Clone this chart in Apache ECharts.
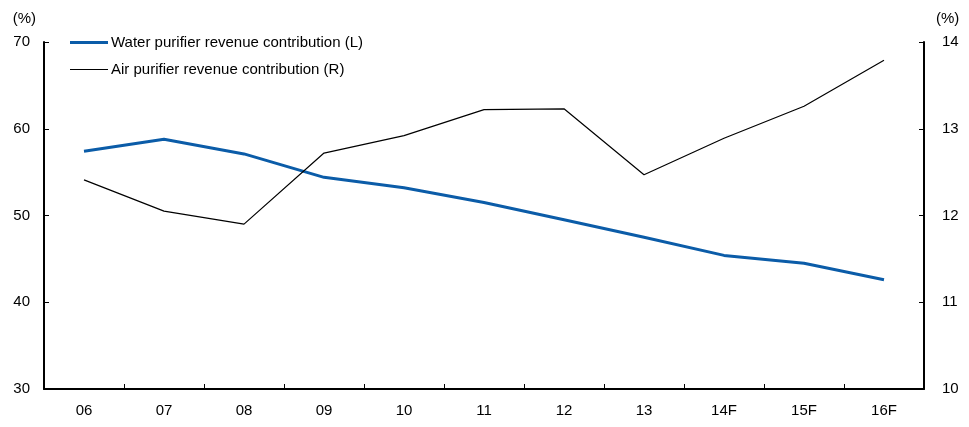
<!DOCTYPE html>
<html>
<head>
<meta charset="utf-8">
<script src="https://cdn.jsdelivr.net/npm/echarts@6/dist/echarts.min.js"></script>
<style>
  html, body { margin: 0; padding: 0; background: #fff; }
  #chart { width: 969px; height: 427px; }
</style>
</head>
<body>
<div id="chart"></div>
<script>
// Years (F = forecast)
const categories = ['06', '07', '08', '09', '10', '11', '12', '13', '14F', '15F', '16F'];
// Water purifier share of revenue, % (left axis)
const waterPurifier = [57.4, 58.8, 57.1, 54.4, 53.2, 51.5, 49.5, 47.5, 45.4, 44.5, 42.6];
// Air purifier share of revenue, % (right axis)
const airPurifier = [12.41, 12.05, 11.90, 12.72, 12.92, 13.22, 13.23, 12.47, 12.89, 13.26, 13.79];
const seriesNames = ['Water purifier revenue contribution (L)', 'Air purifier revenue contribution (R)'];

const FONT = 'Liberation Sans, Arial, sans-serif';
const axisText = { color: '#000', fontFamily: FONT, fontSize: 15 };

const chart = echarts.init(document.getElementById('chart'), null, { renderer: 'canvas' });
chart.setOption({
  animation: false,
  backgroundColor: '#fff',
  grid: { left: 44, right: 45, top: 42, bottom: 38, containLabel: false },
  legend: {
    orient: 'vertical',
    left: 65,
    top: 30,
    itemWidth: 38,
    itemHeight: 3,
    itemGap: 12,
    icon: 'rect',
    textStyle: { color: '#000', fontFamily: FONT, fontSize: 15, padding: [0, 0, 0, -2] },
    data: [
      { name: seriesNames[0], itemStyle: { color: '#0B5CA8' } },
      { name: seriesNames[1], itemStyle: { color: '#000' }, icon: 'path://M0,0H40V1H0Z' }
    ]
  },
  xAxis: {
    type: 'category',
    data: categories,
    boundaryGap: true,
    axisLine: { lineStyle: { color: '#000', width: 2 } },
    axisTick: { show: true, inside: true, length: 5, alignWithLabel: false, lineStyle: { color: '#000', width: 1 } },
    axisLabel: Object.assign({ margin: 14 }, axisText),
    splitLine: { show: false }
  },
  yAxis: [
    {
      type: 'value',
      min: 30, max: 70, interval: 10,
      name: '(%)',
      nameLocation: 'end',
      nameGap: 16,
      nameTextStyle: Object.assign({ align: 'right', padding: [0, 8, 0, 0] }, axisText),
      axisLine: { show: true, lineStyle: { color: '#000', width: 2 } },
      axisTick: { show: true, inside: true, length: 5, lineStyle: { color: '#000', width: 1 } },
      axisLabel: Object.assign({ margin: 14 }, axisText),
      splitLine: { show: false }
    },
    {
      type: 'value',
      min: 10, max: 14, interval: 1,
      position: 'right',
      name: '(%)',
      nameLocation: 'end',
      nameGap: 16,
      nameTextStyle: Object.assign({ align: 'left', padding: [0, 0, 0, 12] }, axisText),
      axisLine: { show: true, lineStyle: { color: '#000', width: 2 } },
      axisTick: { show: true, inside: true, length: 5, lineStyle: { color: '#000', width: 1 } },
      axisLabel: Object.assign({ margin: 18 }, axisText),
      splitLine: { show: false }
    }
  ],
  series: [
    {
      name: seriesNames[0],
      type: 'line',
      yAxisIndex: 0,
      data: waterPurifier,
      showSymbol: false,
      symbol: 'none',
      lineStyle: { color: '#0B5CA8', width: 3 },
      itemStyle: { color: '#0B5CA8' }
    },
    {
      name: seriesNames[1],
      type: 'line',
      yAxisIndex: 1,
      data: airPurifier,
      showSymbol: false,
      symbol: 'none',
      lineStyle: { color: '#000', width: 1.2 },
      itemStyle: { color: '#000' }
    }
  ]
});
</script>
</body>
</html>
